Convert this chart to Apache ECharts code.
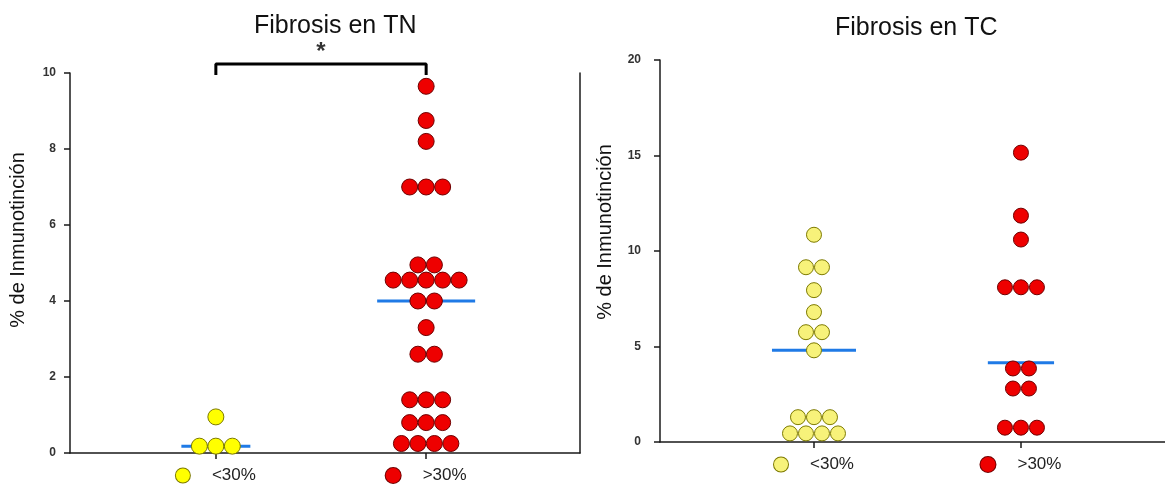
<!DOCTYPE html>
<html>
<head>
<meta charset="utf-8">
<script src="https://cdn.jsdelivr.net/npm/echarts@6/dist/echarts.min.js"></script>
<style>
  html, body { margin: 0; padding: 0; background: #ffffff; }
  #chart { width: 1165px; height: 486px; }
</style>
</head>
<body>
<div id="chart"></div>
<script>
// ---------- data ----------
const categories = ['<30%', '>30%'];
const titles = ['Fibrosis en TN', 'Fibrosis en TC'];
const yAxisName = '% de Inmunotinción';
const significance = '*';

// Fibrosis en TN
const tnLow  = [0.95, 0.18, 0.18, 0.18];
const tnHigh = [9.65, 8.75, 8.2, 7.0, 7.0, 7.0, 4.95, 4.95,
                4.55, 4.55, 4.55, 4.55, 4.55, 4.0, 4.0, 3.3, 2.6, 2.6,
                1.4, 1.4, 1.4, 0.8, 0.8, 0.8, 0.25, 0.25, 0.25, 0.25];
const tnMedians = [0.18, 4.0];
const tnTicks = [0, 2, 4, 6, 8, 10];

// Fibrosis en TC
const tcLow  = [10.85, 9.15, 9.15, 7.95, 6.8, 5.75, 5.75, 4.8,
                1.3, 1.3, 1.3, 0.45, 0.45, 0.45, 0.45];
const tcHigh = [15.15, 11.85, 10.6, 8.1, 8.1, 8.1, 3.85, 3.85,
                2.8, 2.8, 0.75, 0.75, 0.75];
const tcMedians = [4.8, 4.15];
const tcTicks = [0, 5, 10, 15, 20];

// ---------- helpers ----------
// dot-plot layout: points sharing a value are spread side by side around the category
function swarm(values, center, step) {
  const counts = {}, seen = {};
  values.forEach(v => { counts[v] = (counts[v] || 0) + 1; });
  return values.map(v => {
    const i = seen[v] || 0; seen[v] = i + 1;
    return [center + (i - (counts[v] - 1) / 2) * step, v];
  });
}

const YEL = '#ffff00', YEL_B = '#7d7a00';
const YEL2 = '#f7f27a';
const RED = '#ee0000', RED_B = '#6e0000';
const BLUE = '#1f7ae6';
const FONT = '"Liberation Sans", Arial, sans-serif';

function xLabel(yellowColor) {
  return {
    customValues: [1, 2],
    margin: 14,
    formatter: v => (v === 1 ? '{y|}{t|' + categories[0] + '}' : '{r|}{t|' + categories[1] + '}'),
    rich: {
      y: { width: 14, height: 14, borderRadius: 7, backgroundColor: yellowColor, borderColor: YEL_B, borderWidth: 1 },
      r: { width: 15, height: 15, borderRadius: 8, backgroundColor: RED, borderColor: RED_B, borderWidth: 1 },
      t: { fontSize: 17, color: '#222', fontFamily: FONT, padding: [0, 0, 0, 22] }
    }
  };
}

function medianLine(xi, center, half, m) {
  return {
    type: 'line', xAxisIndex: xi, yAxisIndex: xi === 0 ? 0 : 2,
    data: [[center - half, m], [center + half, m]],
    symbol: 'none', silent: true, z: 1,
    lineStyle: { color: BLUE, width: 3 }
  };
}

function dots(xi, data, fill, border, size) {
  return {
    type: 'scatter', xAxisIndex: xi, yAxisIndex: xi === 0 ? 0 : 2,
    data: data, symbolSize: size, z: 3,
    itemStyle: { color: fill, borderColor: border, borderWidth: 1, opacity: 1 }
  };
}

const axisLineStyle = { color: '#1a1a1a', width: 1.5 };
const yLabelL = { fontSize: 12, color: '#333', fontFamily: FONT, fontWeight: 'bold', margin: 14 };
const yLabelR = { fontSize: 12, color: '#333', fontFamily: FONT, fontWeight: 'bold', margin: 19 };

const option = {
  animation: false,
  backgroundColor: '#ffffff',
  textStyle: { fontFamily: FONT },
  title: [
    { text: titles[0], left: 249, top: 9, textStyle: { fontSize: 25, fontWeight: 'normal', color: '#111', fontFamily: FONT } },
    { text: titles[1], left: 830, top: 11, textStyle: { fontSize: 25, fontWeight: 'normal', color: '#111', fontFamily: FONT } }
  ],
  grid: [
    { left: 70, right: 585, top: 73, bottom: 33 },
    { left: 660, right: 0, top: 60, bottom: 44 }
  ],
  xAxis: [
    {
      gridIndex: 0, type: 'value', min: 0.3064, max: 2.7316,
      splitLine: { show: false },
      axisLine: { show: true, lineStyle: axisLineStyle },
      axisTick: { show: true, customValues: [1, 2], length: 6, lineStyle: axisLineStyle },
      axisLabel: xLabel(YEL)
    },
    {
      gridIndex: 1, type: 'value', min: 0.256, max: 2.696,
      splitLine: { show: false },
      axisLine: { show: true, lineStyle: axisLineStyle },
      axisTick: { show: true, customValues: [1, 2], length: 6, lineStyle: axisLineStyle },
      axisLabel: xLabel(YEL2)
    }
  ],
  yAxis: [
    {
      gridIndex: 0, type: 'value', min: tnTicks[0], max: tnTicks[tnTicks.length - 1], interval: 2,
      splitLine: { show: false },
      axisLine: { show: true, lineStyle: axisLineStyle },
      axisTick: { show: true, length: 6, lineStyle: axisLineStyle },
      axisLabel: yLabelL,
      name: yAxisName, nameLocation: 'middle', nameGap: 42, nameRotate: 90,
      nameTextStyle: { fontSize: 20, color: '#111', fontFamily: FONT, padding: [0, 0, 0, 46] }
    },
    {
      gridIndex: 0, type: 'value', position: 'right', min: 0, max: 10,
      splitLine: { show: false },
      axisLine: { show: true, lineStyle: axisLineStyle },
      axisTick: { show: false }, axisLabel: { show: false }
    },
    {
      gridIndex: 1, type: 'value', min: tcTicks[0], max: tcTicks[tcTicks.length - 1], interval: 5,
      splitLine: { show: false },
      axisLine: { show: true, lineStyle: axisLineStyle },
      axisTick: { show: true, length: 6, lineStyle: axisLineStyle },
      axisLabel: yLabelR,
      name: yAxisName, nameLocation: 'middle', nameGap: 45, nameRotate: 90,
      nameTextStyle: { fontSize: 20, color: '#111', fontFamily: FONT, padding: [0, 0, 0, 38] }
    }
  ],
  series: [
    medianLine(0, 1, 0.164, tnMedians[0]),
    medianLine(0, 2, 0.233, tnMedians[1]),
    medianLine(1, 1, 0.203, tcMedians[0]),
    medianLine(1, 2, 0.16, tcMedians[1]),
    dots(0, swarm(tnLow, 1, 0.0784), YEL, YEL_B, 16),
    dots(0, swarm(tnHigh, 2, 0.0784), RED, RED_B, 16),
    dots(1, swarm(tcLow, 1, 0.0773), YEL2, YEL_B, 15),
    dots(1, swarm(tcHigh, 2, 0.0773), RED, RED_B, 15),
    // significance bracket
    {
      type: 'line', xAxisIndex: 0, yAxisIndex: 0, clip: false, silent: true,
      data: [[1, 9.95], [1, 10.24], [2, 10.24], [2, 9.95]],
      symbol: 'none', lineStyle: { color: '#000', width: 3 }
    },
    {
      type: 'scatter', xAxisIndex: 0, yAxisIndex: 0, clip: false, silent: true,
      data: [[1.5, 10.55]], symbolSize: 2, itemStyle: { color: 'rgba(0,0,0,0)' },
      label: { show: true, position: 'inside', formatter: significance, fontSize: 24, fontWeight: 'bold', color: '#000', fontFamily: FONT }
    }
  ]
};

const chart = echarts.init(document.getElementById('chart'), null, { renderer: 'canvas' });
chart.setOption(option);
</script>
</body>
</html>
